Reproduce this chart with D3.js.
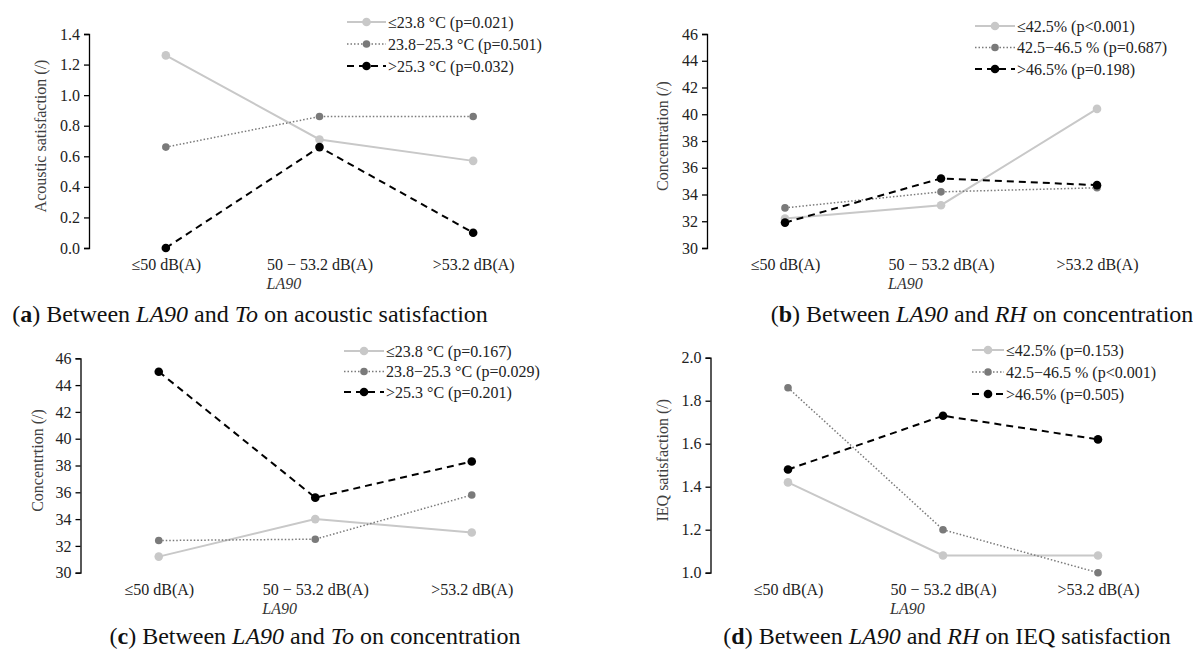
<!DOCTYPE html>
<html>
<head>
<meta charset="utf-8">
<script src="https://cdn.jsdelivr.net/npm/d3@7"></script>
<style>
  body { margin: 0; background: #fff; }
  svg { display: block; font-family: "Liberation Serif", "Times New Roman", serif; }
  .axis text { font-size: 16px; fill: #222; font-family: "Liberation Serif", serif; }
  .axis path, .axis line { stroke: #000; stroke-width: 1.3; }
  .ylabel { font-size: 16px; fill: #404040; }
  .la90 { font-size: 16px; fill: #333; font-style: italic; }
  .legend text { font-size: 16px; fill: #222; }
  .caption { font-size: 24px; fill: #111; }
</style>
</head>
<body>
<div id="graphics"></div>
<script>
// categories on the x axis (LA90 classes)
const categories = ['≤50 dB(A)', '50 − 53.2 dB(A)', '>53.2 dB(A)'];

// (a) acoustic satisfaction by To
const acousticToLabels = ['≤23.8 °C (p=0.021)', '23.8−25.3 °C (p=0.501)', '>25.3 °C (p=0.032)'];
const acousticToLow = [1.26, 0.71, 0.57];
const acousticToMid = [0.66, 0.86, 0.86];
const acousticToHigh = [0.0, 0.66, 0.10];
const acousticTicks = [0, 0.2, 0.4, 0.6, 0.8, 1.0, 1.2, 1.4];

// (b) concentration by RH
const concRhLabels = ['≤42.5% (p<0.001)', '42.5−46.5 % (p=0.687)', '>46.5% (p=0.198)'];
const concRhLow = [32.2, 33.2, 40.4];
const concRhMid = [33.0, 34.2, 34.5];
const concRhHigh = [31.9, 35.2, 34.7];
const concTicks = [30, 32, 34, 36, 38, 40, 42, 44, 46];

// (c) concentration by To
const concToLabels = ['≤23.8 °C (p=0.167)', '23.8−25.3 °C (p=0.029)', '>25.3 °C (p=0.201)'];
const concToLow = [31.2, 34.0, 33.0];
const concToMid = [32.4, 32.5, 35.8];
const concToHigh = [45.0, 35.6, 38.3];

// (d) IEQ satisfaction by RH
const ieqRhLabels = ['≤42.5% (p=0.153)', '42.5−46.5 % (p<0.001)', '>46.5% (p=0.505)'];
const ieqRhLow = [1.42, 1.08, 1.08];
const ieqRhMid = [1.86, 1.20, 1.00];
const ieqRhHigh = [1.48, 1.73, 1.62];
const ieqTicks = [1.0, 1.2, 1.4, 1.6, 1.8, 2.0];

// line styles for low / mid / high group
const styles = [
  { stroke: '#c8c8c8', width: 2, dash: null, r: 4.3, fill: '#c8c8c8' },
  { stroke: '#7a7a7a', width: 1.5, dash: '1.5,2', r: 3.8, fill: '#7a7a7a' },
  { stroke: '#000', width: 2, dash: '7,5', r: 4.3, fill: '#000' }
];

const panels = [
  { letter: 'a', x0: 89, x1: 550, yTop: 34, yBot: 248, domain: [0, 1.4], ticks: acousticTicks, fmt: '.1f',
    ylabel: 'Acoustic satisfaction (/)', ylabelX: 40,
    series: [acousticToLow, acousticToMid, acousticToHigh], labels: acousticToLabels,
    legend: { x: 347, y: 22, step: 22, len: 39 },
    caption: ['Between ', 'LA90', ' and ', 'To', ' on acoustic satisfaction'], capX: 250, capY: 322 },
  { letter: 'b', x0: 707, x1: 1175, yTop: 34, yBot: 248, domain: [30, 46], ticks: concTicks, fmt: 'd',
    ylabel: 'Concentration (/)', ylabelX: 662,
    series: [concRhLow, concRhMid, concRhHigh], labels: concRhLabels,
    legend: { x: 975, y: 26, step: 21.5, len: 40 },
    caption: ['Between ', 'LA90', ' and ', 'RH', ' on concentration'], capX: 982, capY: 322 },
  { letter: 'c', x0: 80.5, x1: 550, yTop: 358.3, yBot: 572.7, domain: [30, 46], ticks: concTicks, fmt: 'd',
    ylabel: 'Concentrtion (/)', ylabelX: 37,
    series: [concToLow, concToMid, concToHigh], labels: concToLabels,
    legend: { x: 344, y: 351, step: 20.5, len: 40 },
    caption: ['Between ', 'LA90', ' and ', 'To', ' on concentration'], capX: 315, capY: 644 },
  { letter: 'd', x0: 710.5, x1: 1175.5, yTop: 357.7, yBot: 572.7, domain: [1.0, 2.0], ticks: ieqTicks, fmt: '.1f',
    ylabel: 'IEQ satisfaction (/)', ylabelX: 662,
    series: [ieqRhLow, ieqRhMid, ieqRhHigh], labels: ieqRhLabels,
    legend: { x: 972, y: 350, step: 22, len: 32 },
    caption: ['Between ', 'LA90', ' and ', 'RH', ' on IEQ satisfaction'], capX: 947, capY: 644 }
];

const svg = d3.select('#graphics')
  .append('svg')
  .attr('width', 1193)
  .attr('height', 654);

panels.forEach((p) => {
  const g = svg.append('g').attr('class', 'panel-' + p.letter);

  const x = d3.scalePoint().domain(categories).range([p.x0, p.x1]).padding(0.5);
  const y = d3.scaleLinear().domain(p.domain).range([p.yBot, p.yTop]);

  // y axis
  g.append('g')
    .attr('class', 'axis y-axis')
    .attr('transform', 'translate(' + p.x0 + ',0)')
    .call(d3.axisLeft(y).tickValues(p.ticks).tickFormat(d3.format(p.fmt)).tickSize(5).tickPadding(4));

  g.append('text')
    .attr('class', 'ylabel')
    .attr('transform', 'translate(' + p.ylabelX + ',' + ((p.yTop + p.yBot) / 2 - 5) + ') rotate(-90)')
    .attr('text-anchor', 'middle')
    .attr('dy', '0.35em')
    .text(p.ylabel);

  // x axis: labels only
  const xAxis = g.append('g')
    .attr('class', 'axis x-axis')
    .attr('transform', 'translate(0,' + p.yBot + ')')
    .call(d3.axisBottom(x).tickSize(0).tickPadding(11));
  xAxis.select('.domain').remove();

  // LA90 title, left aligned with the middle label
  const midText = xAxis.selectAll('.tick text').filter((d) => d === categories[1]).node();
  const midW = midText.getComputedTextLength();
  g.append('text')
    .attr('class', 'la90')
    .attr('x', x(categories[1]) - midW / 2)
    .attr('y', p.yBot + 41)
    .text('LA90');

  // lines + markers
  const line = d3.line()
    .x((d, i) => x(categories[i]))
    .y((d) => y(d));

  p.series.forEach((vals, si) => {
    const s = styles[si];
    g.append('path')
      .datum(vals)
      .attr('d', line)
      .attr('fill', 'none')
      .attr('stroke', s.stroke)
      .attr('stroke-width', s.width)
      .attr('stroke-dasharray', s.dash);
    g.selectAll('.dot-' + si)
      .data(vals)
      .join('circle')
      .attr('class', 'dot-' + si)
      .attr('cx', (d, i) => x(categories[i]))
      .attr('cy', (d) => y(d))
      .attr('r', s.r)
      .attr('fill', s.fill);
  });

  // legend
  const lg = g.append('g').attr('class', 'legend');
  p.labels.forEach((lab, i) => {
    const s = styles[i];
    const ly = p.legend.y + i * p.legend.step;
    lg.append('line')
      .attr('x1', p.legend.x)
      .attr('x2', p.legend.x + p.legend.len)
      .attr('y1', ly)
      .attr('y2', ly)
      .attr('stroke', s.stroke)
      .attr('stroke-width', s.width)
      .attr('stroke-dasharray', s.dash);
    lg.append('circle')
      .attr('cx', p.legend.x + p.legend.len / 2)
      .attr('cy', ly)
      .attr('r', s.r)
      .attr('fill', s.fill);
    lg.append('text')
      .attr('x', p.legend.x + p.legend.len + 2)
      .attr('y', ly)
      .attr('dy', '0.35em')
      .text(lab);
  });

  // caption
  const cap = g.append('text')
    .attr('class', 'caption')
    .attr('x', p.capX)
    .attr('y', p.capY)
    .attr('text-anchor', 'middle');
  cap.append('tspan').text('(');
  cap.append('tspan').attr('font-weight', 'bold').text(p.letter);
  cap.append('tspan').text(') ');
  p.caption.forEach((part, i) => {
    cap.append('tspan')
      .attr('font-style', i % 2 === 1 ? 'italic' : null)
      .text(part);
  });
});
</script>
</body>
</html>
